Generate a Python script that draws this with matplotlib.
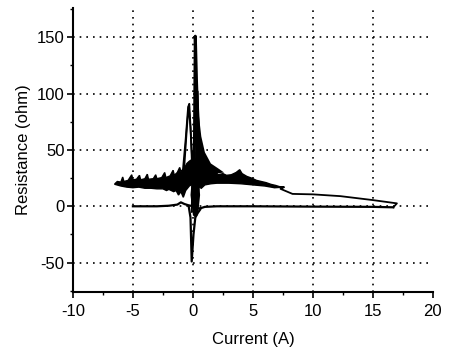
import matplotlib
matplotlib.use("Agg")
import matplotlib.pyplot as plt
from matplotlib.ticker import MultipleLocator

plt.rcParams['font.family'] = ['Liberation Sans', 'DejaVu Sans']
plt.rcParams['axes.unicode_minus'] = False

# Jagged band: upper edge (with fins) and lower edge, both left to right
upper_x = [-6.5, -6.3, -6.0, -5.85, -5.75, -5.4, -5.1, -5.0, -4.7, -4.45, -4.35, -4.0, -3.8,
           -3.7, -3.3, -3.1, -3.0, -2.6, -2.35, -2.25, -1.9, -1.65, -1.55, -1.3, -1.1, -1.0,
           -0.7, -0.5, -0.3, 0.0, 0.3, 0.6, 0.9, 1.1, 1.4, 1.6, 1.9, 2.1, 2.5, 2.8, 3.2, 3.6,
           3.9, 4.1, 4.5, 4.9, 5.3, 5.7, 6.1, 6.5, 6.9, 7.2, 7.5]
upper_y = [20, 22, 21.5, 26, 22, 23, 28, 23.5, 24, 27.5, 23.5, 24.5, 28.5,
           24, 24.5, 28, 24.5, 25.5, 30, 25.5, 27, 32, 27.5, 30, 34.5, 31,
           34, 38, 40, 42, 42, 40, 35, 32, 31, 29, 30.5, 28, 29, 27.5, 28, 30,
           32.5, 29, 26.5, 25, 23, 22, 21, 19.5, 18.5, 17.5, 17]
lower_x = [-6.5, -6.0, -5.5, -5.0, -4.5, -4.0, -3.5, -3.0, -2.5, -2.2, -2.0, -1.6, -1.4,
           -1.2, -1.0, -0.8, -0.6, -0.3, 0.0, 0.4, 0.7, 1.0, 1.5, 2.0, 3.0, 4.0, 5.0, 6.0,
           6.8, 7.5]
lower_y = [19.5, 18, 17, 16.5, 17, 16, 16, 15.5, 15.5, 14, 15, 13, 14,
           10, 13, 8, 14, 18, 20, 18, 16, 19, 20, 20.5, 20.5, 20, 19, 18,
           16.5, 17]

# Central spikes
spike150_x = [0.12, 0.20, 0.30, 0.40, 0.55]
spike150_y = [40, 151, 110, 80, 45]
spike100_x = [0.25, 0.40, 0.50, 0.45]
spike100_y = [20, 102, 60, 20]
spike90_x = [-0.85, -0.6, -0.4, -0.3, -0.15, 0.0]
spike90_y = [30, 60, 88, 91, 60, 30]
spike90b_x = [-0.75, -0.5, -0.35, -0.2, -0.05]
spike90b_y = [30, 70, 89, 70, 30]
spike50_x = [-0.1, 0.0, 0.15, 0.3, 0.5, 0.45, 0.2]
spike50_y = [-5, 49, 48, -8, 20, 40, 10]

# Filled cone right of the main spike
cone_x = [0.25, 0.45, 0.7, 1.0, 1.5, 2.2, 2.6, 1.2, 0.3]
cone_y = [120, 85, 62, 48, 38, 33, 30, 28, 28]

# Dense core around zero current
core_x = [-0.05, 0.1, 0.45, 0.6, 0.45, 0.2, 0.0, -0.2]
core_y = [30, 32, 30, 10, -6, -10, -8, 10]

# Baseline and negative spike
base_x = [-5.0, -3.0, -2.0, -1.3, -1.0, -0.7, -0.4, 0.0, 0.4, 0.7, 1.0, 2.0, 5.0, 10.0, 15.0, 16.7]
base_y = [0, 0, 0.5, 1.5, 3.5, 2, 1, 0, -2, -1.5, -0.5, 0, 0, -0.3, -0.5, -0.9]
neg_x = [-0.35, -0.2, -0.1, 0.05, 0.2, 0.4, 0.6]
neg_y = [0, -10, -49, -25, -10, -6, -3]

# Tail to high current
tail_x = [6.8, 7.6, 7.3, 8.3, 10.0, 12.3, 15.0, 17.0, 16.7]
tail_y = [17, 17, 15.5, 11, 10.6, 9, 5.5, 2.6, -0.9]

x_ticks = [-10, -5, 0, 5, 10, 15, 20]
y_ticks = [-50, 0, 50, 100, 150]

fig = plt.figure(figsize=(4.5, 3.5), dpi=100)
ax = fig.add_axes([0.162, 0.166, 0.8, 0.811])

kw = dict(color='black', lw=1.3)
ax.fill(upper_x + lower_x[::-1], upper_y + lower_y[::-1], color='black', lw=1.0)
ax.fill(cone_x, cone_y, color='black', lw=0)
ax.fill(core_x, core_y, color='black', lw=0)
ax.plot(spike150_x, spike150_y, color='black', lw=2.2)
ax.plot(spike100_x, spike100_y, **kw)
ax.plot(spike90_x, spike90_y, **kw)
ax.plot(spike90b_x, spike90b_y, **kw)
ax.plot(spike50_x, spike50_y, **kw)
ax.plot(base_x, base_y, color='black', lw=1.6)
ax.plot(neg_x, neg_y, color='black', lw=1.6)
ax.plot(tail_x, tail_y, color='black', lw=1.3)

ax.set_xlim(-10, 20)
ax.set_ylim(-76, 176)
ax.set_xticks(x_ticks)
ax.set_yticks(y_ticks)
ax.xaxis.set_minor_locator(MultipleLocator(2.5))
ax.yaxis.set_minor_locator(MultipleLocator(25))
ax.tick_params(which='major', direction='out', length=4, width=1.2, labelsize=12)
ax.tick_params(axis='x', which='major', pad=5)
ax.tick_params(axis='y', which='major', pad=2)
ax.tick_params(which='minor', direction='out', length=2.5, width=1)

for s in ['top', 'right']:
    ax.spines[s].set_visible(False)
for s in ['left', 'bottom']:
    ax.spines[s].set_linewidth(1.5)

for xv in [-5, 0, 5, 10, 15]:
    ax.axvline(xv, color='black', lw=1.2, ls=(0, (1, 3)), zorder=0)
for yv in y_ticks:
    ax.axhline(yv, color='black', lw=1.2, ls=(0, (1, 3)), zorder=0)

ax.set_xlabel('Current (A)', fontsize=12, labelpad=9)
ax.set_ylabel('Resistance (ohm)', fontsize=12, labelpad=4)

fig.savefig('out.png', dpi=100)
